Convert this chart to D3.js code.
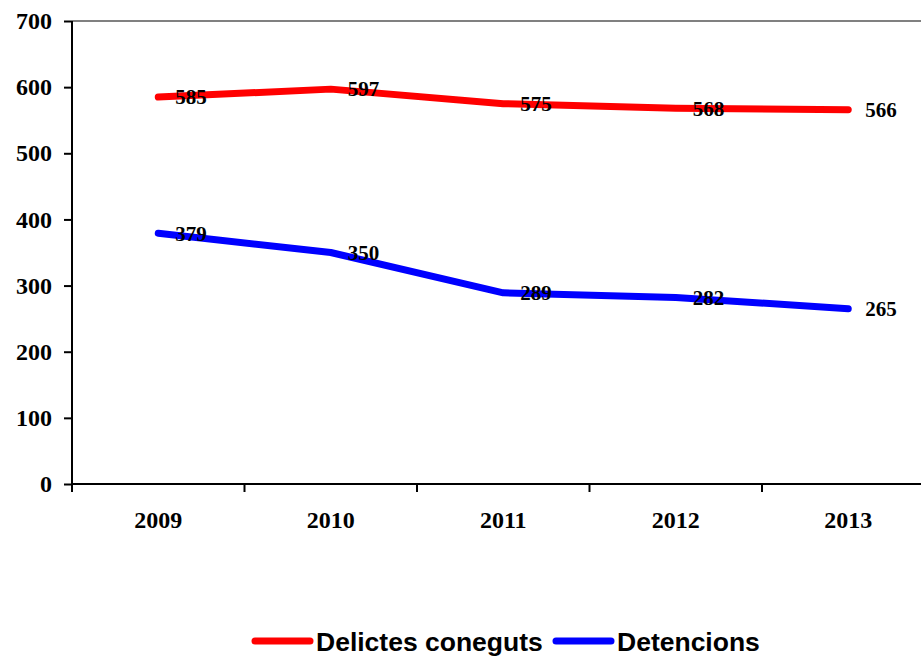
<!DOCTYPE html>
<html><head><meta charset="utf-8">
<script src="https://cdn.jsdelivr.net/npm/d3@7"></script>
<style>body{margin:0;background:#fff}svg{display:block}</style>
</head><body>
<svg id="c" width="921" height="657"></svg>
<script>
const years = ["2009","2010","2011","2012","2013"];
const delictes = [585, 597, 575, 568, 566];
const detencions = [379, 350, 289, 282, 265];
const yTicks = [0,100,200,300,400,500,600,700];
const seriesNames = ["Delictes coneguts","Detencions"];
const seriesColors = ["#FF0000","#0000FF"];

const svg = d3.select("#c");
const L = 72, R = 934.5, T = 21, B = 484;
const x = d3.scaleBand().domain(years).range([L, R]);
const y = d3.scaleLinear().domain([0,700]).range([B, T]);
const serif = "'Liberation Serif','Times New Roman',serif";

// top border
svg.append("line").attr("x1",L).attr("x2",921).attr("y1",T).attr("y2",T)
  .attr("stroke","#808080").attr("stroke-width",2);

// y axis
const ya = svg.append("g").attr("transform",`translate(${L},0)`)
  .call(d3.axisLeft(y).tickValues(yTicks).tickSize(8).tickPadding(12).tickFormat(d3.format("d")));
ya.select(".domain").attr("stroke","#000").attr("stroke-width",2).attr("d",`M0,${T}V${B}`);
ya.selectAll(".tick line").attr("stroke","#000").attr("stroke-width",2);
ya.selectAll("text").attr("font-family",serif).attr("font-weight","bold").attr("font-size",24).attr("fill","#000");

// x axis
const xa = svg.append("g").attr("transform",`translate(0,${B})`)
  .call(d3.axisBottom(x).tickSize(0).tickPadding(0));
xa.select(".domain").attr("stroke","#000").attr("stroke-width",2).attr("d",`M${L},0H921`);
xa.selectAll("text").attr("y",44).attr("dy",null)
  .attr("font-family",serif).attr("font-weight","bold").attr("font-size",24).attr("fill","#000");
// category boundary ticks
const bounds = years.map(d => x(d)).concat([x(years[years.length-1]) + x.bandwidth()]);
svg.append("g").selectAll("line").data(bounds).join("line")
  .attr("x1",d=>d).attr("x2",d=>d).attr("y1",B).attr("y2",B+8)
  .attr("stroke","#000").attr("stroke-width",2);

const cx = d => x(d) + x.bandwidth()/2;
const line = d3.line().x((d,i)=>cx(years[i])).y(d=>y(d));
[delictes, detencions].forEach((s,k)=>{
  svg.append("path").attr("d",line(s)).attr("fill","none")
    .attr("stroke",seriesColors[k]).attr("stroke-width",7)
    .attr("stroke-linecap","round").attr("stroke-linejoin","round");
});
[delictes, detencions].forEach((s,k)=>{
  svg.append("g").selectAll("text").data(s).join("text")
    .attr("x",(d,i)=>cx(years[i])+17).attr("y",d=>y(d)).attr("dy","0.35em")
    .attr("font-family",serif).attr("font-weight","bold").attr("font-size",21)
    .attr("fill","#000").text(d=>d);
});

// legend
const lg = svg.append("g").attr("font-family","'Liberation Sans',Arial,sans-serif")
  .attr("font-weight","bold").attr("font-size",26.5);
const legendX = [252, 553];
seriesNames.forEach((n,k)=>{
  const x0 = legendX[k];
  lg.append("line").attr("x1",x0+3).attr("x2",x0+58).attr("y1",641).attr("y2",641)
    .attr("stroke",seriesColors[k]).attr("stroke-width",7).attr("stroke-linecap","round");
  lg.append("text").attr("x",x0+64).attr("y",641).attr("dy","0.36em").attr("fill","#000").text(n);
});
</script>
</body></html>
